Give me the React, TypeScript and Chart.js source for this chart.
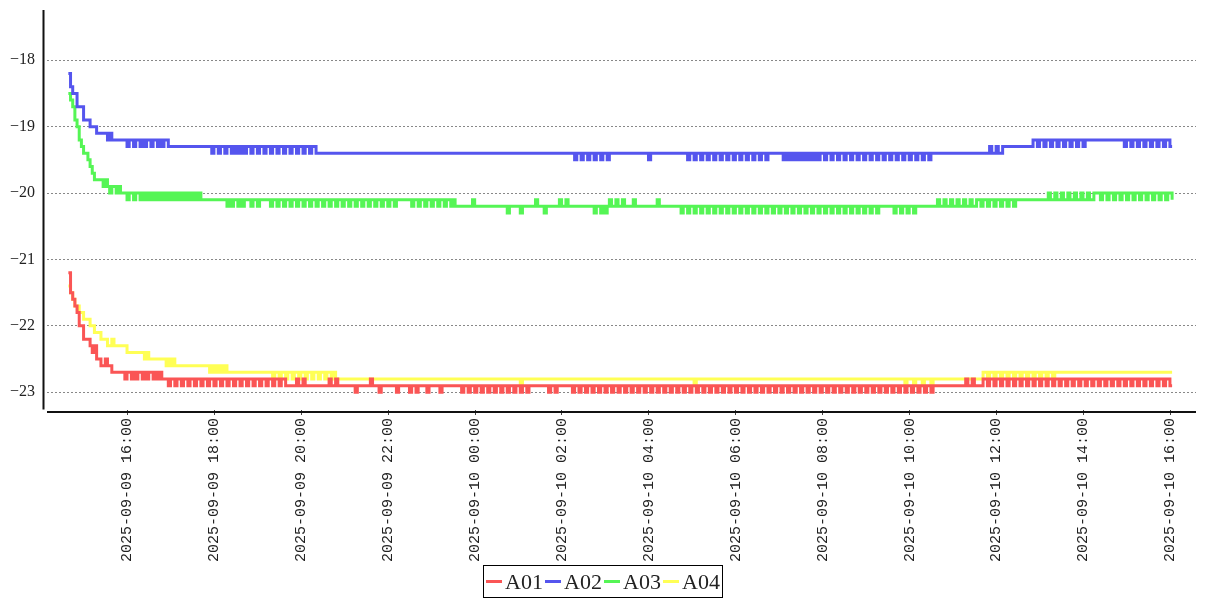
import { useEffect, useRef } from "react";
import { Chart, registerables } from "chart.js";

Chart.register(...registerables);

// ---------- data ----------
const SERIES_NAMES = ["A01", "A02", "A03", "A04"];
const SERIES_COLORS = ["rgb(250,85,85)", "rgb(85,85,238)", "rgb(85,245,85)", "rgb(255,255,85)"];

// samples: one every 3 minutes from 2025-09-09 14:38:30 (minutes after 2025-09-09 00:00)
const START_MIN = 878.5;
const STEP_MIN = 3;

const X_MIN = 849;
const X_MAX = 2435.5;
const X_TICK_VALUES = [960, 1080, 1200, 1320, 1440, 1560, 1680, 1800, 1920, 2040, 2160, 2280, 2400];
const X_TICK_LABELS = [
  "2025-09-09 16:00",
  "2025-09-09 18:00",
  "2025-09-09 20:00",
  "2025-09-09 22:00",
  "2025-09-10 00:00",
  "2025-09-10 02:00",
  "2025-09-10 04:00",
  "2025-09-10 06:00",
  "2025-09-10 08:00",
  "2025-09-10 10:00",
  "2025-09-10 12:00",
  "2025-09-10 14:00",
  "2025-09-10 16:00",
];
const Y_TICKS = [-23, -22, -21, -20, -19, -18];
const Y_MIN = -23.267;
const Y_MAX = -17.243;

// Sample codes: each character = (value - base) in tenths (base-36 digit);
// "c*n" = character c repeated n times.
const A01_BASE = -23.0;
const A01_CODE = [
  "ifedcaa88876755445443333",
  "33233232332323323232",
  "221221221221 221221221221 221221221221 221221221221 221221221",
  "1*4 2 1*2 2 1*11 2 1*2 2 1*8 0 1*6 2 1*3 0 1*7 0 1*5 0 1*2 0 1*4 0",
  "1*5 0 1*7",
  "110110110110 110110110110 110110110",
  "1*7",
  "11011011",
  "1*3",
  "110110110110 110110110110 110110110110 110110110110 110110110110 110110110110 110110110110",
  "110110110110 110110110110 110110110110 110110110110 110110110110 110110110110 110110110110 1",
  "1*13",
  "12112",
  "1*4",
  "221221221221 221221221221 221221221221 221221221221 221221221221 221221221221 221221221221 221 1",
];

const A02_BASE = -19.5;
const A02_CODE = [
  "dbaa88866655544444343333333",
  "23323323233233232332",
  "2*19",
  "12212212212 121212 212212212212212212212212212212 21",
  "1*117",
  "10110110110110110",
  "1*18 0 1*15",
  "110110110110 110110110110 110110110110 110 1",
  "1*5",
  "101010101010101010",
  "110110110110 110110110110 110110110110 110110110110 110 1",
  "1*25",
  "121121122",
  "2*12",
  "332332332332 332332332332 3",
  "3*15",
  "332332332332 332332332332 2",
];

const A03_BASE = -20.3;
const A03_CODE = [
  "ihgedba99876 5555 45434434 333",
  "233233 2323232323 2323232323 23232323",
  "2*11",
  "2121221212221221222",
  "221221221221 221221221221 221221221221 221221221221 221221221221 2",
  "2*4",
  "221221221221 221221221 2",
  "1*8 2 1*15 0 1*5 0 1*6 2 1*3 0 1*6 2 1*2 2 1*12 0 1*2 0 1 0 1 2 1*2 2 1*2 2 1*4 2 1*10 2 1*8",
  "110110110110 110110110110 110110110110 110110110110 110110110110 110110110110 110110110110 110110110",
  "1*5",
  "110110110110 11",
  "1*6",
  "112112112112112112 11",
  "221221221221221221 22",
  "2*11",
  "223223223223 223223223223",
  "332332332332 332332332332 332332332332",
];

const A04_BASE = -22.9;
const A04_CODE = [
  "fedccbbaaa99888777667 6*6 5*8 454 4*6",
  "4343433",
  "3*13",
  "32323232322",
  "2*17",
  "221221221221 221221221221 221221 21",
  "1*84 0 1*79 0 1*96 0 1*3 0 1*3 0 1*3 0 1*23",
  "221221221221 221221221221 221221221 22",
  "2*53",
];

function decode(base: number, code: string[]): number[] {
  const out: number[] = [];
  const tokens = code.join(" ").trim().split(/\s+/);
  for (const tok of tokens) {
    if (tok.includes("*")) {
      const c = tok[0];
      const n = parseInt(tok.slice(2), 10);
      const v = Math.round((base + parseInt(c, 36) / 10) * 10) / 10;
      for (let r = 0; r < n; r++) out.push(v);
    } else {
      for (const c of tok) out.push(Math.round((base + parseInt(c, 36) / 10) * 10) / 10);
    }
  }
  return out;
}

const SERIES_VALUES = [
  decode(A01_BASE, A01_CODE),
  decode(A02_BASE, A02_CODE),
  decode(A03_BASE, A03_CODE),
  decode(A04_BASE, A04_CODE),
];

const axisLines = {
  id: "axisLines",
  afterDraw(chart: any) {
    const { ctx, chartArea: a } = chart;
    ctx.save();
    ctx.strokeStyle = "#111";
    ctx.lineWidth = 2;
    ctx.beginPath();
    ctx.moveTo(a.left - 3.5, a.top);
    ctx.lineTo(a.left - 3.5, a.bottom - 0.5);
    ctx.stroke();
    ctx.beginPath();
    ctx.moveTo(a.left, a.bottom + 2);
    ctx.lineTo(a.right, a.bottom + 2);
    ctx.stroke();
    ctx.restore();
  },
};

export default function App() {
  const ref = useRef<HTMLCanvasElement | null>(null);

  useEffect(() => {
    if (!ref.current) return;
    const chart = new Chart(ref.current, {
      type: "line",
      data: {
        datasets: SERIES_NAMES.map((name, k) => ({
          label: name,
          data: SERIES_VALUES[k].map((v, i) => ({ x: START_MIN + STEP_MIN * i, y: v })),
          borderColor: SERIES_COLORS[k],
          backgroundColor: SERIES_COLORS[k],
          borderWidth: 3,
          pointRadius: 0,
          stepped: true,
          fill: false,
        })),
      },
      plugins: [axisLines],
      options: {
        animation: false,
        responsive: true,
        maintainAspectRatio: false,
        layout: { padding: { top: 10, left: 0, right: 11, bottom: 0 } },
        plugins: { legend: { display: false }, tooltip: { enabled: false } },
        scales: {
          x: {
            type: "linear",
            min: X_MIN,
            max: X_MAX,
            afterBuildTicks: (scale: any) => {
              scale.ticks = X_TICK_VALUES.map((v) => ({ value: v }));
            },
            afterFit: (scale: any) => {
              scale.height = 190;
              scale.paddingLeft = 0;
              scale.paddingRight = 0;
            },
            border: { display: false },
            grid: {
              display: true,
              drawOnChartArea: false,
              drawTicks: true,
              tickLength: 5,
              color: "#444",
              lineWidth: 1,
            },
            ticks: {
              autoSkip: false,
              minRotation: 90,
              maxRotation: 90,
              padding: 3,
              color: "#222",
              font: { family: "'Liberation Mono', 'DejaVu Sans Mono', monospace", size: 15 },
              callback: (value: any) => {
                const idx = X_TICK_VALUES.indexOf(Number(value));
                return idx >= 0 ? X_TICK_LABELS[idx] : "";
              },
            },
          },
          y: {
            type: "linear",
            min: Y_MIN,
            max: Y_MAX,
            afterBuildTicks: (scale: any) => {
              scale.ticks = Y_TICKS.map((v) => ({ value: v }));
            },
            afterFit: (scale: any) => {
              scale.width = 47;
              scale.paddingTop = 0;
              scale.paddingBottom = 0;
            },
            border: { display: false, dash: [2, 2] },
            grid: {
              display: true,
              drawTicks: false,
              color: "#888",
              lineWidth: 1,
            },
            ticks: {
              padding: 12,
              color: "#222",
              font: { family: "'Liberation Serif', 'DejaVu Serif', serif", size: 16 },
              callback: (value: any) => {
                const n = Number(value);
                return n < 0 ? "\u2212" + Math.abs(n) : String(n);
              },
            },
          },
        },
      },
    });
    return () => chart.destroy();
  }, []);

  return (
    <div style={{ position: "fixed", left: 0, top: 0, width: 1207, height: 600, background: "#fff" }}>
      <canvas ref={ref} />
      <div
        style={{
          position: "absolute",
          left: 483,
          top: 565,
          width: 240,
          height: 33,
          boxSizing: "border-box",
          border: "1px solid #000",
          display: "flex",
          alignItems: "center",
          paddingLeft: 2,
          fontFamily: "'Liberation Serif', 'DejaVu Serif', serif",
          fontSize: 22,
          color: "#222",
        }}
      >
        {SERIES_NAMES.map((name, k) => (
          <div key={name} style={{ display: "flex", alignItems: "center", width: 59.5 }}>
            <span style={{ display: "inline-block", width: 16, height: 3, background: SERIES_COLORS[k], marginRight: 3 }} />
            <span>{name}</span>
          </div>
        ))}
      </div>
    </div>
  );
}
